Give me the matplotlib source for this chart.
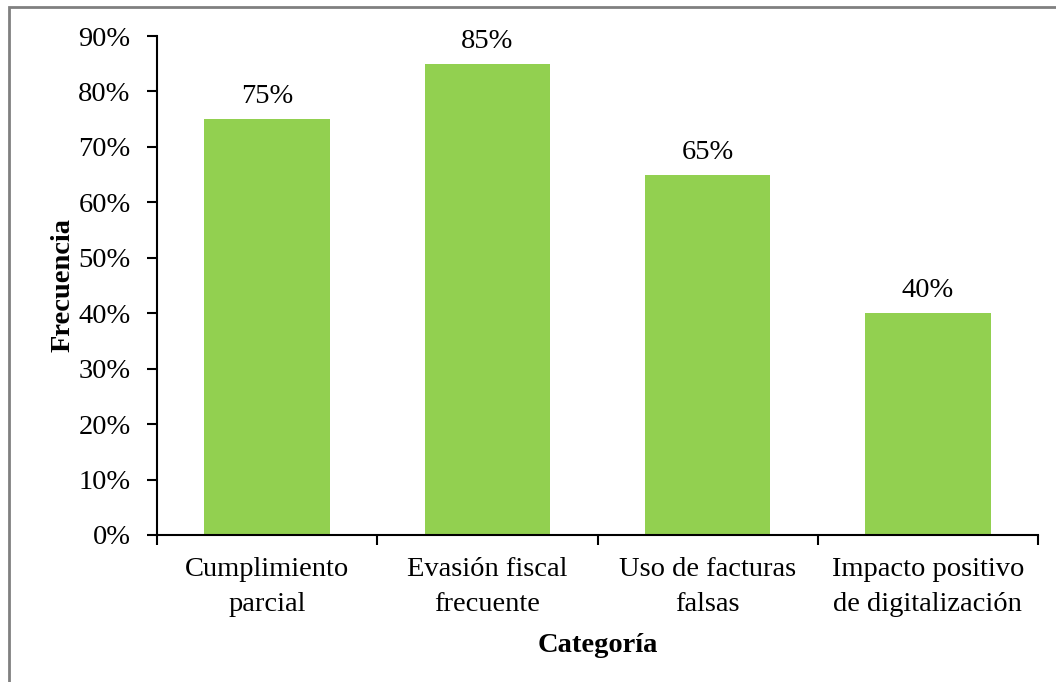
import matplotlib
matplotlib.use("Agg")
import matplotlib.pyplot as plt
from matplotlib.patches import Rectangle
from matplotlib.ticker import FuncFormatter

categories = ["Cumplimiento\nparcial", "Evasión fiscal\nfrecuente", "Uso de facturas\nfalsas", "Impacto positivo\nde digitalización"]
values = [75, 85, 65, 40]
y_ticks = [0, 10, 20, 30, 40, 50, 60, 70, 80, 90]

plt.rcParams['font.family'] = ['Liberation Serif', 'DejaVu Serif']
FS = 20.5

fig = plt.figure(figsize=(10.56, 6.82), dpi=100)
ax = fig.add_axes([157/1056, 1-535/682, (1038-157)/1056, (535-36)/682])

x = list(range(len(categories)))
bars = ax.bar(x, values, width=0.57, color="#92D050", zorder=2)
for xi, v in zip(x, values):
    ax.text(xi, v + 1.8, f"{v}%", ha="center", va="bottom", fontsize=FS)

ax.set_xlim(-0.5, len(categories) - 0.5)
ax.set_ylim(0, 90)
ax.set_yticks(y_ticks)
ax.yaxis.set_major_formatter(FuncFormatter(lambda v, p: f"{int(v)}%"))
ax.set_xticks([i - 0.5 for i in range(len(categories) + 1)], minor=False)
ax.set_xticklabels([])
ax.set_xticks(x, minor=True)
ax.set_xticklabels(categories, minor=True, fontsize=FS, linespacing=1.5)
ax.tick_params(axis="x", which="minor", length=0, pad=16)
ax.tick_params(axis="x", which="major", direction="out", length=7, width=1.5)
ax.tick_params(axis="y", direction="out", length=7, width=1.5, labelsize=FS, pad=12)

for s in ["top", "right"]:
    ax.spines[s].set_visible(False)
for s in ["left", "bottom"]:
    ax.spines[s].set_linewidth(1.5)

ax.set_ylabel("Frecuencia", fontsize=FS, fontweight="bold", labelpad=2)
ax.set_xlabel("Categoría", fontsize=FS, fontweight="bold", labelpad=12)

fig.patches.append(Rectangle((8.5/1056, -0.1), 1.2, 1 - 7/682 + 0.1, transform=fig.transFigure,
                             fill=False, edgecolor="#808080", linewidth=2))

fig.savefig("out.png", dpi=100)
